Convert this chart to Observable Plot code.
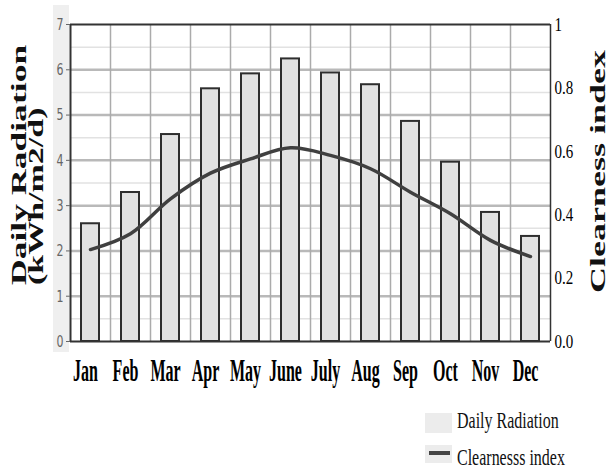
<!DOCTYPE html>
<html>
<head>
<meta charset="utf-8">
<script src="https://cdn.jsdelivr.net/npm/d3@7"></script>
<script src="https://cdn.jsdelivr.net/npm/@observablehq/plot@0.6"></script>
<style>
  html, body { margin: 0; padding: 0; background: #fff; }
  #chart { position: relative; width: 608px; height: 471px; overflow: hidden; }
</style>
</head>
<body>
<div id="chart"></div>
<script>
const months = ["Jan","Feb","Mar","Apr","May","June","July","Aug","Sep","Oct","Nov","Dec"];
const radiation = [2.60, 3.29, 4.57, 5.58, 5.91, 6.24, 5.93, 5.67, 4.86, 3.96, 2.85, 2.32];
const clearness = [0.290, 0.340, 0.450, 0.531, 0.576, 0.611, 0.587, 0.545, 0.471, 0.403, 0.319, 0.268];
const radiationTicks = [0, 1, 2, 3, 4, 5, 6, 7];
const radiationMinor = [0.5, 1.5, 2.5, 3.5, 4.5, 5.5, 6.5];
const clearnessTicks = [0, 0.2, 0.4, 0.6, 0.8, 1];
const radiationMax = 7;
const leftTitle = ["Daily Radiation", "(kWh/m2/d)"];
const rightTitle = "Clearness index";
const legendLabels = ["Daily Radiation", "Clearnesss index"];

const data = months.map((m, i) => ({month: m, i, radiation: radiation[i], clearness: clearness[i]}));

const serif = "'Liberation Serif', 'Times New Roman', serif";

const plot = Plot.plot({
  width: 608,
  height: 471,
  marginTop: 24,
  marginBottom: 130,
  marginLeft: 70,
  marginRight: 58,
  x: {domain: [0, months.length]},
  y: {domain: [0, radiationMax]},
  style: {background: "transparent", overflow: "visible"},
  marks: [
    Plot.ruleY(radiationMinor, {stroke: "#e2e2e2", strokeWidth: 1.5}),
    Plot.ruleY(radiationTicks.slice(1, -1), {stroke: "#b9b9b9", strokeWidth: 2.5}),
    Plot.ruleX(d3.range(1, months.length), {stroke: "#ababab", strokeWidth: 1.5}),
    Plot.rectY(data, {
      x1: d => d.i, x2: d => d.i + 1, y: "radiation",
      insetLeft: 11, insetRight: 11,
      fill: "#e2e2e2", stroke: "#2e2e2e", strokeWidth: 2
    }),
    Plot.ruleY([radiationMax], {stroke: "#333", strokeWidth: 2}),
    Plot.ruleY([0], {stroke: "#333", strokeWidth: 2}),
    Plot.ruleX([0], {stroke: "#333", strokeWidth: 2}),
    Plot.ruleX([months.length], {stroke: "#333", strokeWidth: 1.5}),
    Plot.line(data, {
      x: d => d.i + 0.5, y: d => d.clearness * radiationMax,
      curve: "catmull-rom", stroke: "#404040", strokeWidth: 3.5
    }),
    Plot.axisY(radiationTicks, {
      anchor: "left", tickSize: 4, tickPadding: 3, color: "#666",
      fontSize: 11, fontFamily: "'DejaVu Sans', sans-serif", label: null
    }),
    Plot.axisY(clearnessTicks.map(c => c * radiationMax), {
      anchor: "right", tickSize: 0, tickPadding: 4, color: "#000",
      fontSize: 15, fontFamily: serif, label: null,
      tickFormat: d => { const c = d / radiationMax; return Math.abs(c - 1) < 1e-9 ? "1" : c.toFixed(1); }
    }),
    Plot.axisX(months.map((m, i) => i + 0.5), {
      anchor: "bottom", tickSize: 0, tickPadding: 17, color: "#000", dx: -5,
      fontSize: 16, fontWeight: "bold", fontFamily: serif, label: null,
      tickFormat: d => months[Math.floor(d)]
    })
  ]
});

const svg = d3.select(plot);
function stretch(nodes, sx, sy) {
  nodes.forEach(n => {
    const t = n.getAttribute("transform") || "";
    n.setAttribute("transform", t + ` scale(${sx},${sy})`);
  });
}
const yLabelGroups = plot.querySelectorAll('g[aria-label="y-axis tick label"]');
if (yLabelGroups[0]) stretch(yLabelGroups[0].querySelectorAll("text"), 1, 1.5);
if (yLabelGroups[1]) stretch(yLabelGroups[1].querySelectorAll("text"), 1, 1.3);
const xLabelGroup = plot.querySelector('g[aria-label="x-axis tick label"]');
if (xLabelGroup) stretch(xLabelGroup.querySelectorAll("text"), 1, 2);

// light strip behind left tick labels
svg.insert("rect", ":first-child")
  .attr("x", 53).attr("y", 5).attr("width", 16).attr("height", 347)
  .attr("fill", "#efefef");
svg.insert("rect", ":first-child")
  .attr("x", 0).attr("y", 0).attr("width", 608).attr("height", 471)
  .attr("fill", "#fff");

// left title (two lines)
const lt = svg.append("g").attr("font-family", serif).attr("font-weight", "bold")
  .attr("font-size", 20).attr("fill", "#111").attr("text-anchor", "start");
lt.append("text").attr("text-anchor", "start")
  .attr("transform", "translate(26,285) rotate(-90) scale(1.78,1)").text(leftTitle[0]);
lt.append("text").attr("text-anchor", "start")
  .attr("transform", "translate(43,285) rotate(-90) scale(1.7,1)").text(leftTitle[1]);

// right title
svg.append("text").attr("font-family", serif).attr("font-weight", "bold")
  .attr("font-size", 20).attr("fill", "#111").attr("text-anchor", "start")
  .attr("transform", "translate(605,293) rotate(-90) scale(1.8,1)").text(rightTitle);

// legend
const lg = svg.append("g").attr("font-family", serif).attr("font-size", 16)
  .attr("fill", "#111").attr("text-anchor", "start");
lg.append("rect").attr("x", 425).attr("y", 413).attr("width", 27).attr("height", 20).attr("fill", "#ececec");
lg.append("text").attr("text-anchor", "start")
  .attr("transform", "translate(457,428) scale(1,1.4)").text(legendLabels[0]);
lg.append("rect").attr("x", 425).attr("y", 445).attr("width", 27).attr("height", 18).attr("fill", "#ececec");
lg.append("line").attr("x1", 429).attr("x2", 450).attr("y1", 453).attr("y2", 453)
  .attr("stroke", "#444").attr("stroke-width", 4);
lg.append("text").attr("text-anchor", "start")
  .attr("transform", "translate(457,465) scale(1,1.4)").text(legendLabels[1]);

document.getElementById("chart").appendChild(plot);
</script>
</body>
</html>
